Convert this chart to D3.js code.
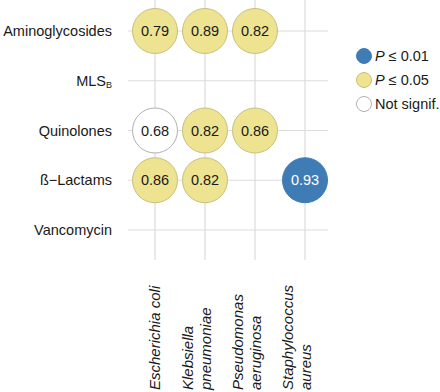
<!DOCTYPE html>
<html>
<head>
<meta charset="utf-8">
<title>Resistance correlation dot plot</title>
<script src="https://cdn.jsdelivr.net/npm/d3@7"></script>
<style>
  body { margin: 0; background: #fff; }
  svg { font-family: "Liberation Sans", Arial, Helvetica, sans-serif; }
</style>
</head>
<body>
<svg id="chart" width="440" height="392"></svg>
<script>
// antibiotic classes (rows) and species (columns)
var classes = ['Aminoglycosides', 'MLSB', 'Quinolones', 'Lactams', 'Vancomycin'];
var species = ['Escherichia coli', 'Klebsiella pneumoniae', 'Pseudomonas aeruginosa', 'Staphylococcus aureus'];
var speciesLines = [['Escherichia coli'], ['Klebsiella', 'pneumoniae'], ['Pseudomonas', 'aeruginosa'], ['Staphylococcus', 'aureus']];

// one entry per drawn dot: row, column, value, significance
var cellClass = ['Aminoglycosides', 'Aminoglycosides', 'Aminoglycosides', 'Quinolones', 'Quinolones', 'Quinolones', 'Lactams', 'Lactams', 'Lactams'];
var cellSpecies = ['Escherichia coli', 'Klebsiella pneumoniae', 'Pseudomonas aeruginosa', 'Escherichia coli', 'Klebsiella pneumoniae', 'Pseudomonas aeruginosa', 'Escherichia coli', 'Klebsiella pneumoniae', 'Staphylococcus aureus'];
var cellValue = [0.79, 0.89, 0.82, 0.68, 0.82, 0.86, 0.86, 0.82, 0.93];
var cellSig = ['p05', 'p05', 'p05', 'ns', 'p05', 'p05', 'p05', 'p05', 'p01'];

var sigKeys = ['p01', 'p05', 'ns'];
var sigFill = { p01: '#3f7cb6', p05: '#ede390', ns: '#ffffff' };
var sigStroke = { p01: '#3f7cb6', p05: '#c8bf80', ns: '#b0b0b0' };

var svg = d3.select('#chart');

var x = d3.scalePoint().domain(species).range([155, 305]);
var y = d3.scalePoint().domain(classes).range([31, 230]);

// grid
var grid = svg.append('g');
grid.selectAll('line.h').data(classes).enter().append('line')
  .attr('x1', 128).attr('x2', 328)
  .attr('y1', function (d) { return y(d); }).attr('y2', function (d) { return y(d); })
  .attr('stroke', '#dcdcdc').attr('stroke-width', 1.2);
grid.selectAll('line.v').data(species).enter().append('line')
  .attr('x1', function (d) { return x(d); }).attr('x2', function (d) { return x(d); })
  .attr('y1', 0).attr('y2', 260)
  .attr('stroke', '#dcdcdc').attr('stroke-width', 1.2);

// row labels
var rowLab = svg.append('g');
classes.forEach(function (c) {
  var t = rowLab.append('text')
    .attr('x', 112).attr('y', y(c)).attr('dy', '0.35em')
    .attr('text-anchor', 'end').attr('font-size', 14.5).attr('fill', '#1a1a1a');
  if (c === 'MLSB') {
    t.append('tspan').text('MLS');
    t.append('tspan').attr('font-size', 9).attr('dy', '0.25em').text('B');
  } else if (c === 'Lactams') {
    t.text('\u00df\u2212Lactams');
  } else {
    t.text(c);
  }
});

// column labels (rotated, italic, bottom aligned)
var colLab = svg.append('g');
species.forEach(function (s, i) {
  var lines = speciesLines[i];
  lines.forEach(function (ln, j) {
    var cx = lines.length === 1 ? x(s) : x(s) - 17 + j * 18;
    colLab.append('text')
      .attr('transform', 'translate(' + cx + ',390) rotate(-90)')
      .attr('dy', '0.35em')
      .attr('text-anchor', 'start')
      .attr('font-size', 15).attr('font-style', 'italic').attr('fill', '#1a1a1a')
      .text(ln);
  });
});

// dots
var cells = cellValue.map(function (v, i) {
  return { c: cellClass[i], s: cellSpecies[i], v: v, sig: cellSig[i] };
});
var dots = svg.append('g').selectAll('g').data(cells).enter().append('g')
  .attr('transform', function (d) { return 'translate(' + x(d.s) + ',' + y(d.c) + ')'; });
dots.append('circle').attr('r', 22.5)
  .attr('fill', function (d) { return sigFill[d.sig]; })
  .attr('stroke', function (d) { return sigStroke[d.sig]; })
  .attr('stroke-width', 1);
dots.append('text').attr('text-anchor', 'middle').attr('dy', '0.36em')
  .attr('font-size', 14.5)
  .attr('fill', function (d) { return d.sig === 'p01' ? '#ffffff' : '#1a1a1a'; })
  .text(function (d) { return d3.format('.2f')(d.v); });

// legend
var ly = d3.scalePoint().domain(sigKeys).range([56, 104]);
var leg = svg.append('g');
sigKeys.forEach(function (k) {
  leg.append('circle').attr('cx', 364).attr('cy', ly(k)).attr('r', 7.5)
    .attr('fill', sigFill[k]).attr('stroke', sigStroke[k]).attr('stroke-width', 1);
  var t = leg.append('text').attr('x', 375).attr('y', ly(k)).attr('dy', '0.36em')
    .attr('font-size', 14.5).attr('fill', '#1a1a1a');
  if (k === 'ns') {
    t.text('Not signif.');
  } else {
    t.append('tspan').attr('font-style', 'italic').text('P');
    t.append('tspan').text(' \u2264 ' + (k === 'p01' ? '0.01' : '0.05'));
  }
});
</script>
</body>
</html>
